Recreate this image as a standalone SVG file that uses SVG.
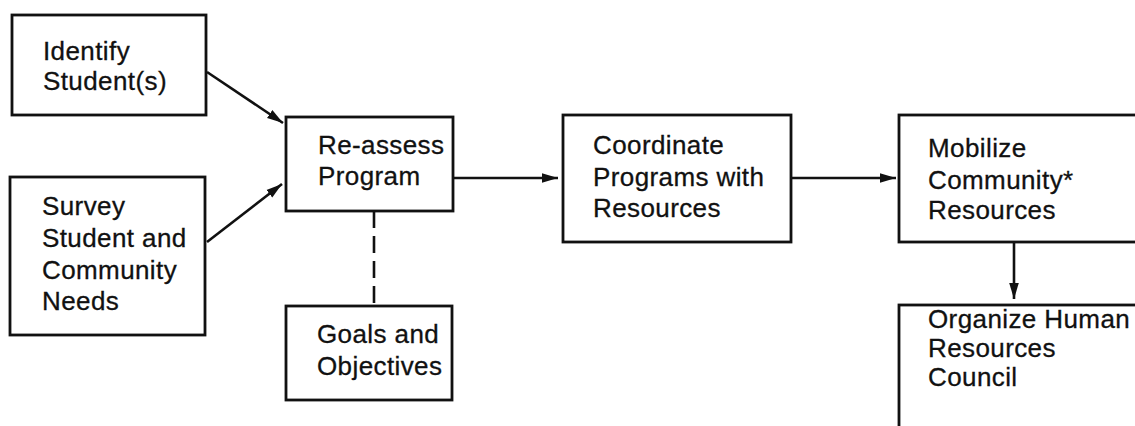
<svg xmlns="http://www.w3.org/2000/svg" width="1135" height="426" viewBox="0 0 1135 426">
  <style>
    .box { fill: #ffffff; stroke: #111111; stroke-width: 2.8; }
    .label { font-family: "Liberation Sans", Arial, Helvetica, sans-serif; font-size: 26px; letter-spacing: 0.4px; fill: #111111; stroke: #111111; stroke-width: 0.3; }
    .link { stroke: #111111; stroke-width: 2.6; fill: none; }
    .dashed { stroke-dasharray: 17 8; }
  </style>
  <defs>
    <marker id="arrow" markerUnits="userSpaceOnUse" markerWidth="18" markerHeight="12" refX="16" refY="6" orient="auto">
      <path d="M0,1.2 L16,6 L0,10.8 Z" fill="#111111"/>
    </marker>
  </defs>
  <rect width="1135" height="426" fill="#ffffff"/>

  <!-- connectors -->
  <g id="connectors">
    <line class="link" x1="207" y1="72" x2="283" y2="123" marker-end="url(#arrow)"/>
    <line class="link" x1="207" y1="242" x2="282" y2="184" marker-end="url(#arrow)"/>
    <line class="link" x1="453" y1="178" x2="558" y2="178" marker-end="url(#arrow)"/>
    <line class="link" x1="791" y1="178" x2="896" y2="178" marker-end="url(#arrow)"/>
    <line class="link" x1="1014" y1="242" x2="1014" y2="299" marker-end="url(#arrow)"/>
    <line class="link dashed" x1="374" y1="211" x2="374" y2="306"/>
  </g>

  <g id="identify-students">
    <rect class="box" x="12" y="15" width="194" height="100"/>
    <text class="label" x="43" y="60">Identify<tspan x="43" y="90">Student(s)</tspan></text>
  </g>

  <g id="survey-needs">
    <rect class="box" x="10" y="177" width="195" height="158"/>
    <text class="label" x="42" y="215">Survey<tspan x="42" y="247">Student and</tspan><tspan x="42" y="279">Community</tspan><tspan x="42" y="310">Needs</tspan></text>
  </g>

  <g id="reassess-program">
    <rect class="box" x="286" y="117" width="167" height="94"/>
    <text class="label" x="318" y="154">Re-assess<tspan x="318" y="185">Program</tspan></text>
  </g>

  <g id="goals-objectives">
    <rect class="box" x="286" y="306" width="166" height="94"/>
    <text class="label" x="317" y="343">Goals and<tspan x="317" y="375">Objectives</tspan></text>
  </g>

  <g id="coordinate-programs">
    <rect class="box" x="563" y="115" width="228" height="127"/>
    <text class="label" x="593" y="154">Coordinate<tspan x="593" y="186">Programs with</tspan><tspan x="593" y="217">Resources</tspan></text>
  </g>

  <g id="mobilize-resources">
    <rect class="box" x="899" y="115" width="250" height="127"/>
    <text class="label" x="928" y="157">Mobilize<tspan x="928" y="189">Community*</tspan><tspan x="928" y="219">Resources</tspan></text>
  </g>

  <g id="organize-council">
    <rect class="box" x="899" y="305" width="250" height="140"/>
    <text class="label" x="928" y="328">Organize Human<tspan x="928" y="357">Resources</tspan><tspan x="928" y="386">Council</tspan></text>
  </g>
</svg>
